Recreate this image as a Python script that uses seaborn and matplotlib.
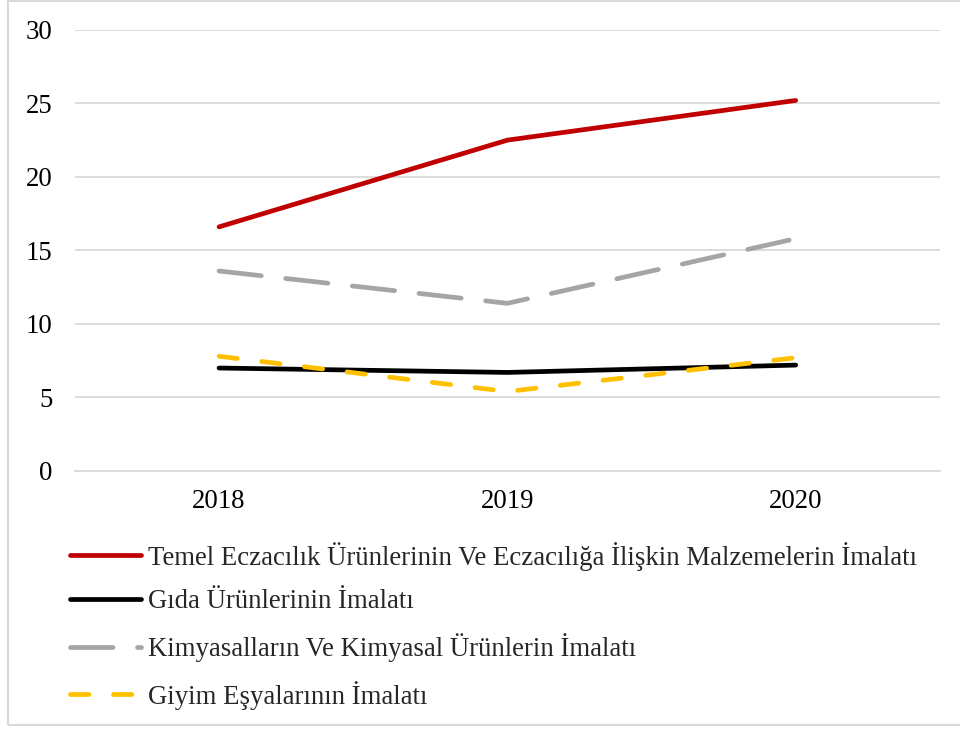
import pandas as pd
import numpy as np
import matplotlib.pyplot as plt
import seaborn as sns
from matplotlib.patches import Rectangle

# values
years = ['2018', '2019', '2020']
series_names = [
    'Temel Eczacılık Ürünlerinin Ve Eczacılığa İlişkin Malzemelerin İmalatı',
    'Gıda Ürünlerinin İmalatı',
    'Kimyasalların Ve Kimyasal Ürünlerin İmalatı',
    'Giyim Eşyalarının İmalatı',
]
eczacilik = [16.6, 22.5, 25.2]
gida = [7.0, 6.7, 7.2]
kimya = [13.6, 11.4, 15.8]
giyim = [7.8, 5.4, 7.7]

colors = ['#C00000', '#000000', '#A5A5A5', '#FFC000']
lw = 3.4
dash_styles = ['', '', (9.0, 5.2), (3.9, 5.2)]

df = pd.DataFrame({
    'year': years * 4,
    'value': eczacilik + gida + kimya + giyim,
    'series': np.repeat(series_names, 3),
})

sns.set_theme(style='white')
plt.rcParams['font.family'] = ['Liberation Serif', 'DejaVu Serif']
fs = 19.3

fig = plt.figure(figsize=(9.6, 7.29), dpi=100)
ax = fig.add_axes([0.078, 0.354, 0.901, 0.605])

sns.lineplot(data=df, x='year', y='value', hue='series', style='series',
             hue_order=series_names, style_order=series_names,
             palette=dict(zip(series_names, colors)),
             dashes=dict(zip(series_names, dash_styles)),
             linewidth=lw, legend=False, ax=ax, sort=False)

# draw order: red on top of gray, yellow over black like the original
z = {series_names[0]: 5, series_names[1]: 3, series_names[2]: 4, series_names[3]: 4}
for line, name in zip(ax.get_lines(), series_names):
    line.set_solid_capstyle('round')
    line.set_dash_capstyle('round')
    line.set_zorder(z[name])

ax.set_xlim(-0.5, 2.5)
ax.set_ylim(0, 30)
ax.set_yticks(range(0, 31, 5))
ax.set_xlabel('')
ax.set_ylabel('')
ax.grid(axis='y', color='#D9D9D9', linewidth=1.3)
ax.grid(axis='x', visible=False)
for s in ['top', 'right', 'left']:
    ax.spines[s].set_visible(False)
ax.spines['bottom'].set_color('#D9D9D9')
ax.spines['bottom'].set_linewidth(1.3)
ax.tick_params(axis='both', length=0, labelsize=fs, colors='#000000')
ax.tick_params(axis='y', pad=16)
ax.tick_params(axis='x', pad=13)

handles = ax.get_lines()[:4]
fig.legend(handles, series_names, loc='upper left', bbox_to_anchor=(0.073, 0.257),
           frameon=False, fontsize=fs, handlelength=2.63, handletextpad=0.26,
           labelspacing=0.7, borderaxespad=0, borderpad=0)

fig.patches.append(Rectangle((8 / 960, 4 / 729), 1.0, 1 - 5 / 729, transform=fig.transFigure,
                             fill=False, edgecolor='#D9D9D9', linewidth=1.5))

fig.savefig('out.png', dpi=100)
